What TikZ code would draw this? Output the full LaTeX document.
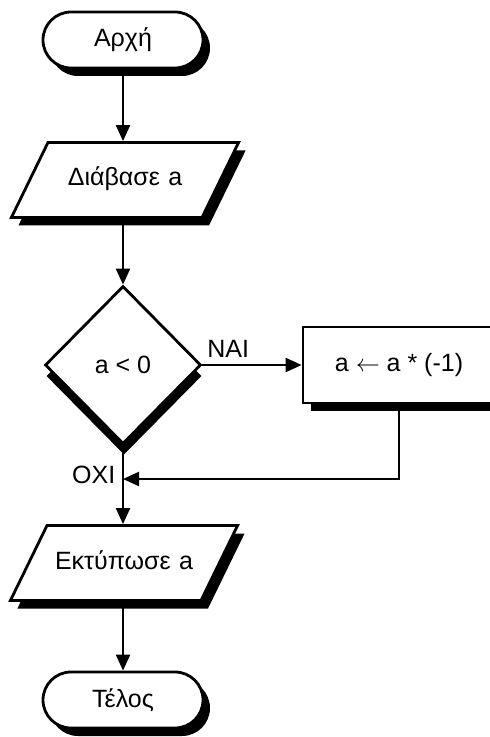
\documentclass[tikz,border=0pt]{standalone}
\usepackage{fontspec}
\setmainfont{Liberation Sans}
\usetikzlibrary{shapes.geometric,shapes.misc,shadows,arrows.meta}

\begin{document}
\begin{tikzpicture}[x=0.5pt, y=-0.5pt, font=\fontsize{12.5}{14}\selectfont,
	box/.style={draw, line width=1.4pt, fill=white, inner sep=0pt},
	shade/.style 2 args={drop shadow={shadow xshift=#1, shadow yshift=#2, opacity=1, fill=black}},
	terminal/.style={box, rounded rectangle, minimum width=80pt, minimum height=28pt, shade={3.5pt}{-4pt}},
	io/.style={box, trapezium, trapezium left angle=64, trapezium right angle=116, text width=77pt, align=center, text height=9pt, text depth=3pt, inner xsep=0pt, inner ysep=12.75pt, shade={3.5pt}{-4pt}},
	decision/.style={box, diamond, minimum width=78pt, minimum height=79pt, shade={0.5pt}{-5.5pt}},
	process/.style={box, rectangle, minimum width=96pt, minimum height=38pt, shade={4pt}{-4pt}},
	flow/.style={line width=1.1pt, -{Triangle[length=8pt, width=7pt]}}]
		%%%%% START %%%%%
		\useasboundingbox (0, 0) rectangle (490, 737);
		\clip (0, 0) rectangle (490, 737);
		
		\node[terminal] (start) at (123, 40) {Αρχή};
		\node[io] (read) at (125, 180) {Διάβασε a};
		\node[decision] (test) at (123, 365) {a < 0};
		\node[process] (calc) at (399, 365) {a $\leftarrow$ a * (-1)};
		\node[io] (print) at (124, 563) {Εκτύπωσε a};
		\node[terminal] (stop) at (123, 700) {Τέλος};
		\coordinate (join) at (123, 479);
		
		\draw[flow] (start.south) -- (start.south |- read.north);
		\draw[flow] (test.north |- read.south) -- (test.north);
		\draw[flow] (test.east) -- node[above, pos=0.26] (yes) {ΝΑΙ} (calc.west);
		\draw[flow] (calc.south) |- (join);
		\draw[flow] (test.south) -- node[left, pos=0.37] (no) {ΟΧΙ} (test.south |- print.north);
		\draw[flow] (stop.north |- print.south) -- (stop.north);
		%%%%% END %%%%%
\end{tikzpicture}
\end{document}
